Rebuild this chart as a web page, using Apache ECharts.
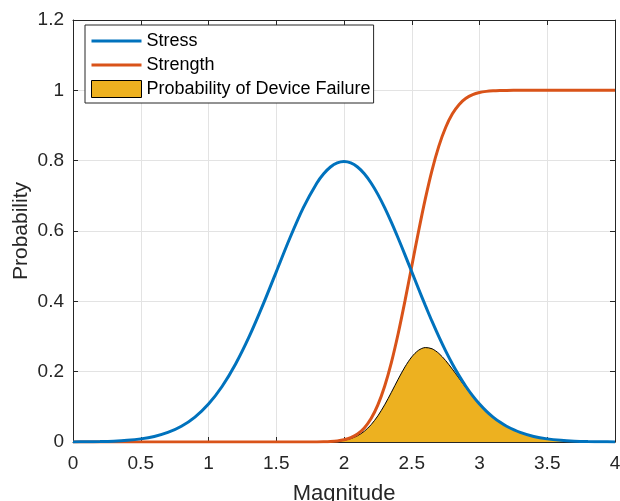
<!DOCTYPE html>
<html>
<head>
<meta charset="utf-8">
<script src="https://cdn.jsdelivr.net/npm/echarts@6/dist/echarts.min.js"></script>
<style>
    html, body { margin: 0; padding: 0; background: #fff; }
    #myChart { width: 620px; height: 501px; }
</style>
</head>
<body>
<div id="myChart"></div>
<script>
// magnitude samples (denser where the curves bend quickly)
var magnitude = [0, 0.1, 0.2, 0.3, 0.4, 0.5, 0.6, 0.7, 0.8, 0.9,
    1.0, 1.1, 1.2, 1.3, 1.4, 1.5, 1.6, 1.7, 1.8, 1.85,
    1.9, 1.95, 2.0, 2.05, 2.1, 2.15, 2.2, 2.25, 2.3, 2.35,
    2.4, 2.45, 2.5, 2.55, 2.6, 2.65, 2.7, 2.75, 2.8, 2.85,
    2.9, 2.95, 3.0, 3.05, 3.1, 3.15, 3.2, 3.3, 3.4, 3.5,
    3.6, 3.7, 3.8, 3.9, 4.0];

var stress = [0.00027, 0.00058, 0.00122, 0.00246, 0.00477, 0.00886, 0.01583, 0.02717, 0.04479, 0.07095,
    0.10798, 0.15790, 0.22184, 0.29945, 0.38837, 0.48394, 0.57938, 0.66645, 0.73654, 0.76277,
    0.78208, 0.79390, 0.79788, 0.79390, 0.78208, 0.76277, 0.73654, 0.70413, 0.66645, 0.62451,
    0.57938, 0.53217, 0.48394, 0.43570, 0.38837, 0.34274, 0.29945, 0.25903, 0.22184, 0.18810,
    0.15790, 0.13123, 0.10798, 0.08797, 0.07095, 0.05664, 0.04479, 0.02717, 0.01583, 0.00886,
    0.00477, 0.00246, 0.00122, 0.00058, 0.00027];

var strength = [0, 0, 0, 0, 0, 0, 0, 0, 0, 0,
    0, 0, 0, 0, 0, 0, 0, 0.00003, 0.00023, 0.00058,
    0.00135, 0.00298, 0.00621, 0.01222, 0.02275, 0.04006, 0.06681, 0.10565, 0.15866, 0.22663,
    0.30854, 0.40129, 0.5, 0.59871, 0.69146, 0.77337, 0.84134, 0.89435, 0.93319, 0.95994,
    0.97725, 0.98778, 0.99379, 0.99702, 0.99865, 0.99942, 0.99977, 0.99997, 1, 1,
    1, 1, 1, 1, 1];

var failure = [0, 0, 0, 0, 0, 0, 0, 0, 0, 0,
    0, 0, 0, 0, 0, 0, 0, 0.00002, 0.00017, 0.00044,
    0.00106, 0.00237, 0.00495, 0.00970, 0.01779, 0.03056, 0.04921, 0.07439, 0.10574, 0.14153,
    0.17876, 0.21355, 0.24197, 0.26086, 0.26854, 0.26507, 0.25194, 0.23166, 0.20702, 0.18056,
    0.15431, 0.12963, 0.10731, 0.08771, 0.07085, 0.05661, 0.04478, 0.02717, 0.01583, 0.00886,
    0.00477, 0.00246, 0.00122, 0.00058, 0.00027];

var x_ticks = [0, 4, 0.5];   // min, max, interval
var y_ticks = [0, 1.2, 0.2];

var FONT = 'Liberation Sans, Arial, sans-serif';
var AXIS_COLOR = '#262626';
// thin bar inside a 50x17 box, used as the legend mark of the two lines
var LINE_ICON = 'path://M0,0L0.01,0M50,17L49.99,17M0,7L50,7L50,10L0,10Z';

function pairs(values) {
    var out = [];
    for (var i = 0; i < magnitude.length; i++) {
        out.push([magnitude[i], values[i]]);
    }
    return out;
}

function make_axis(ticks, position, main) {
    return {
        type: 'value',
        position: position,
        min: ticks[0],
        max: ticks[1],
        interval: ticks[2],
        axisLine: { show: true, onZero: false, lineStyle: { color: AXIS_COLOR, width: 1 } },
        axisTick: { show: true, inside: true, length: 5, lineStyle: { color: AXIS_COLOR } },
        axisLabel: {
            show: main,
            color: AXIS_COLOR,
            fontFamily: FONT,
            fontSize: 19
        },
        splitLine: { show: main, lineStyle: { color: '#e3e3e3', width: 1 } }
    };
}

var myChart = echarts.init(document.getElementById('myChart'), null, { renderer: 'canvas' });

var xBottom = make_axis(x_ticks, 'bottom', true);
xBottom.axisLabel.margin = 12;
xBottom.name = 'Magnitude';
xBottom.nameLocation = 'middle';
xBottom.nameGap = 41;
xBottom.nameMoveOverlap = false;
xBottom.nameTextStyle = { color: AXIS_COLOR, fontFamily: FONT, fontSize: 22 };

var yLeft = make_axis(y_ticks, 'left', true);
yLeft.axisLabel.margin = 9;
yLeft.name = 'Probability';
yLeft.nameLocation = 'middle';
yLeft.nameGap = 41;
yLeft.nameMoveOverlap = false;
yLeft.nameTextStyle = { color: AXIS_COLOR, fontFamily: FONT, fontSize: 21 };

var option = {
    animation: false,
    backgroundColor: '#fff',
    grid: { left: 73, right: 5, top: 20, bottom: 59, containLabel: false, outerBoundsMode: 'none' },
    legend: {
        orient: 'vertical',
        left: 85,
        top: 25,
        padding: [7, 3, 5, 6],
        itemWidth: 50,
        itemHeight: 17,
        itemGap: 6,
        backgroundColor: '#fff',
        borderColor: AXIS_COLOR,
        borderWidth: 1,
        textStyle: { color: '#000', fontFamily: FONT, fontSize: 18 },
        data: [
            { name: 'Stress', icon: LINE_ICON, itemStyle: { color: '#0072BD', borderWidth: 0 } },
            { name: 'Strength', icon: LINE_ICON, itemStyle: { color: '#D95319', borderWidth: 0 } },
            {
                name: 'Probability of Device Failure',
                icon: 'rect',
                itemStyle: { color: '#EDB120', borderColor: '#000', borderWidth: 1 }
            }
        ]
    },
    xAxis: [xBottom, make_axis(x_ticks, 'top', false)],
    yAxis: [yLeft, make_axis(y_ticks, 'right', false)],
    series: [
        {
            name: 'Probability of Device Failure',
            type: 'line',
            z: 1,
            smooth: 0.3,
            symbol: 'none',
            itemStyle: { color: '#EDB120' },
            lineStyle: { color: '#000', width: 1 },
            areaStyle: { color: '#EDB120', opacity: 1, origin: 'start' },
            data: pairs(failure)
        },
        {
            name: 'Stress',
            type: 'line',
            z: 3,
            smooth: 0.3,
            symbol: 'none',
            itemStyle: { color: '#0072BD' },
            lineStyle: { color: '#0072BD', width: 3 },
            data: pairs(stress)
        },
        {
            name: 'Strength',
            type: 'line',
            z: 2,
            smooth: 0.3,
            symbol: 'none',
            itemStyle: { color: '#D95319' },
            lineStyle: { color: '#D95319', width: 3 },
            data: pairs(strength)
        }
    ]
};
myChart.setOption(option);
</script>
</body>
</html>
